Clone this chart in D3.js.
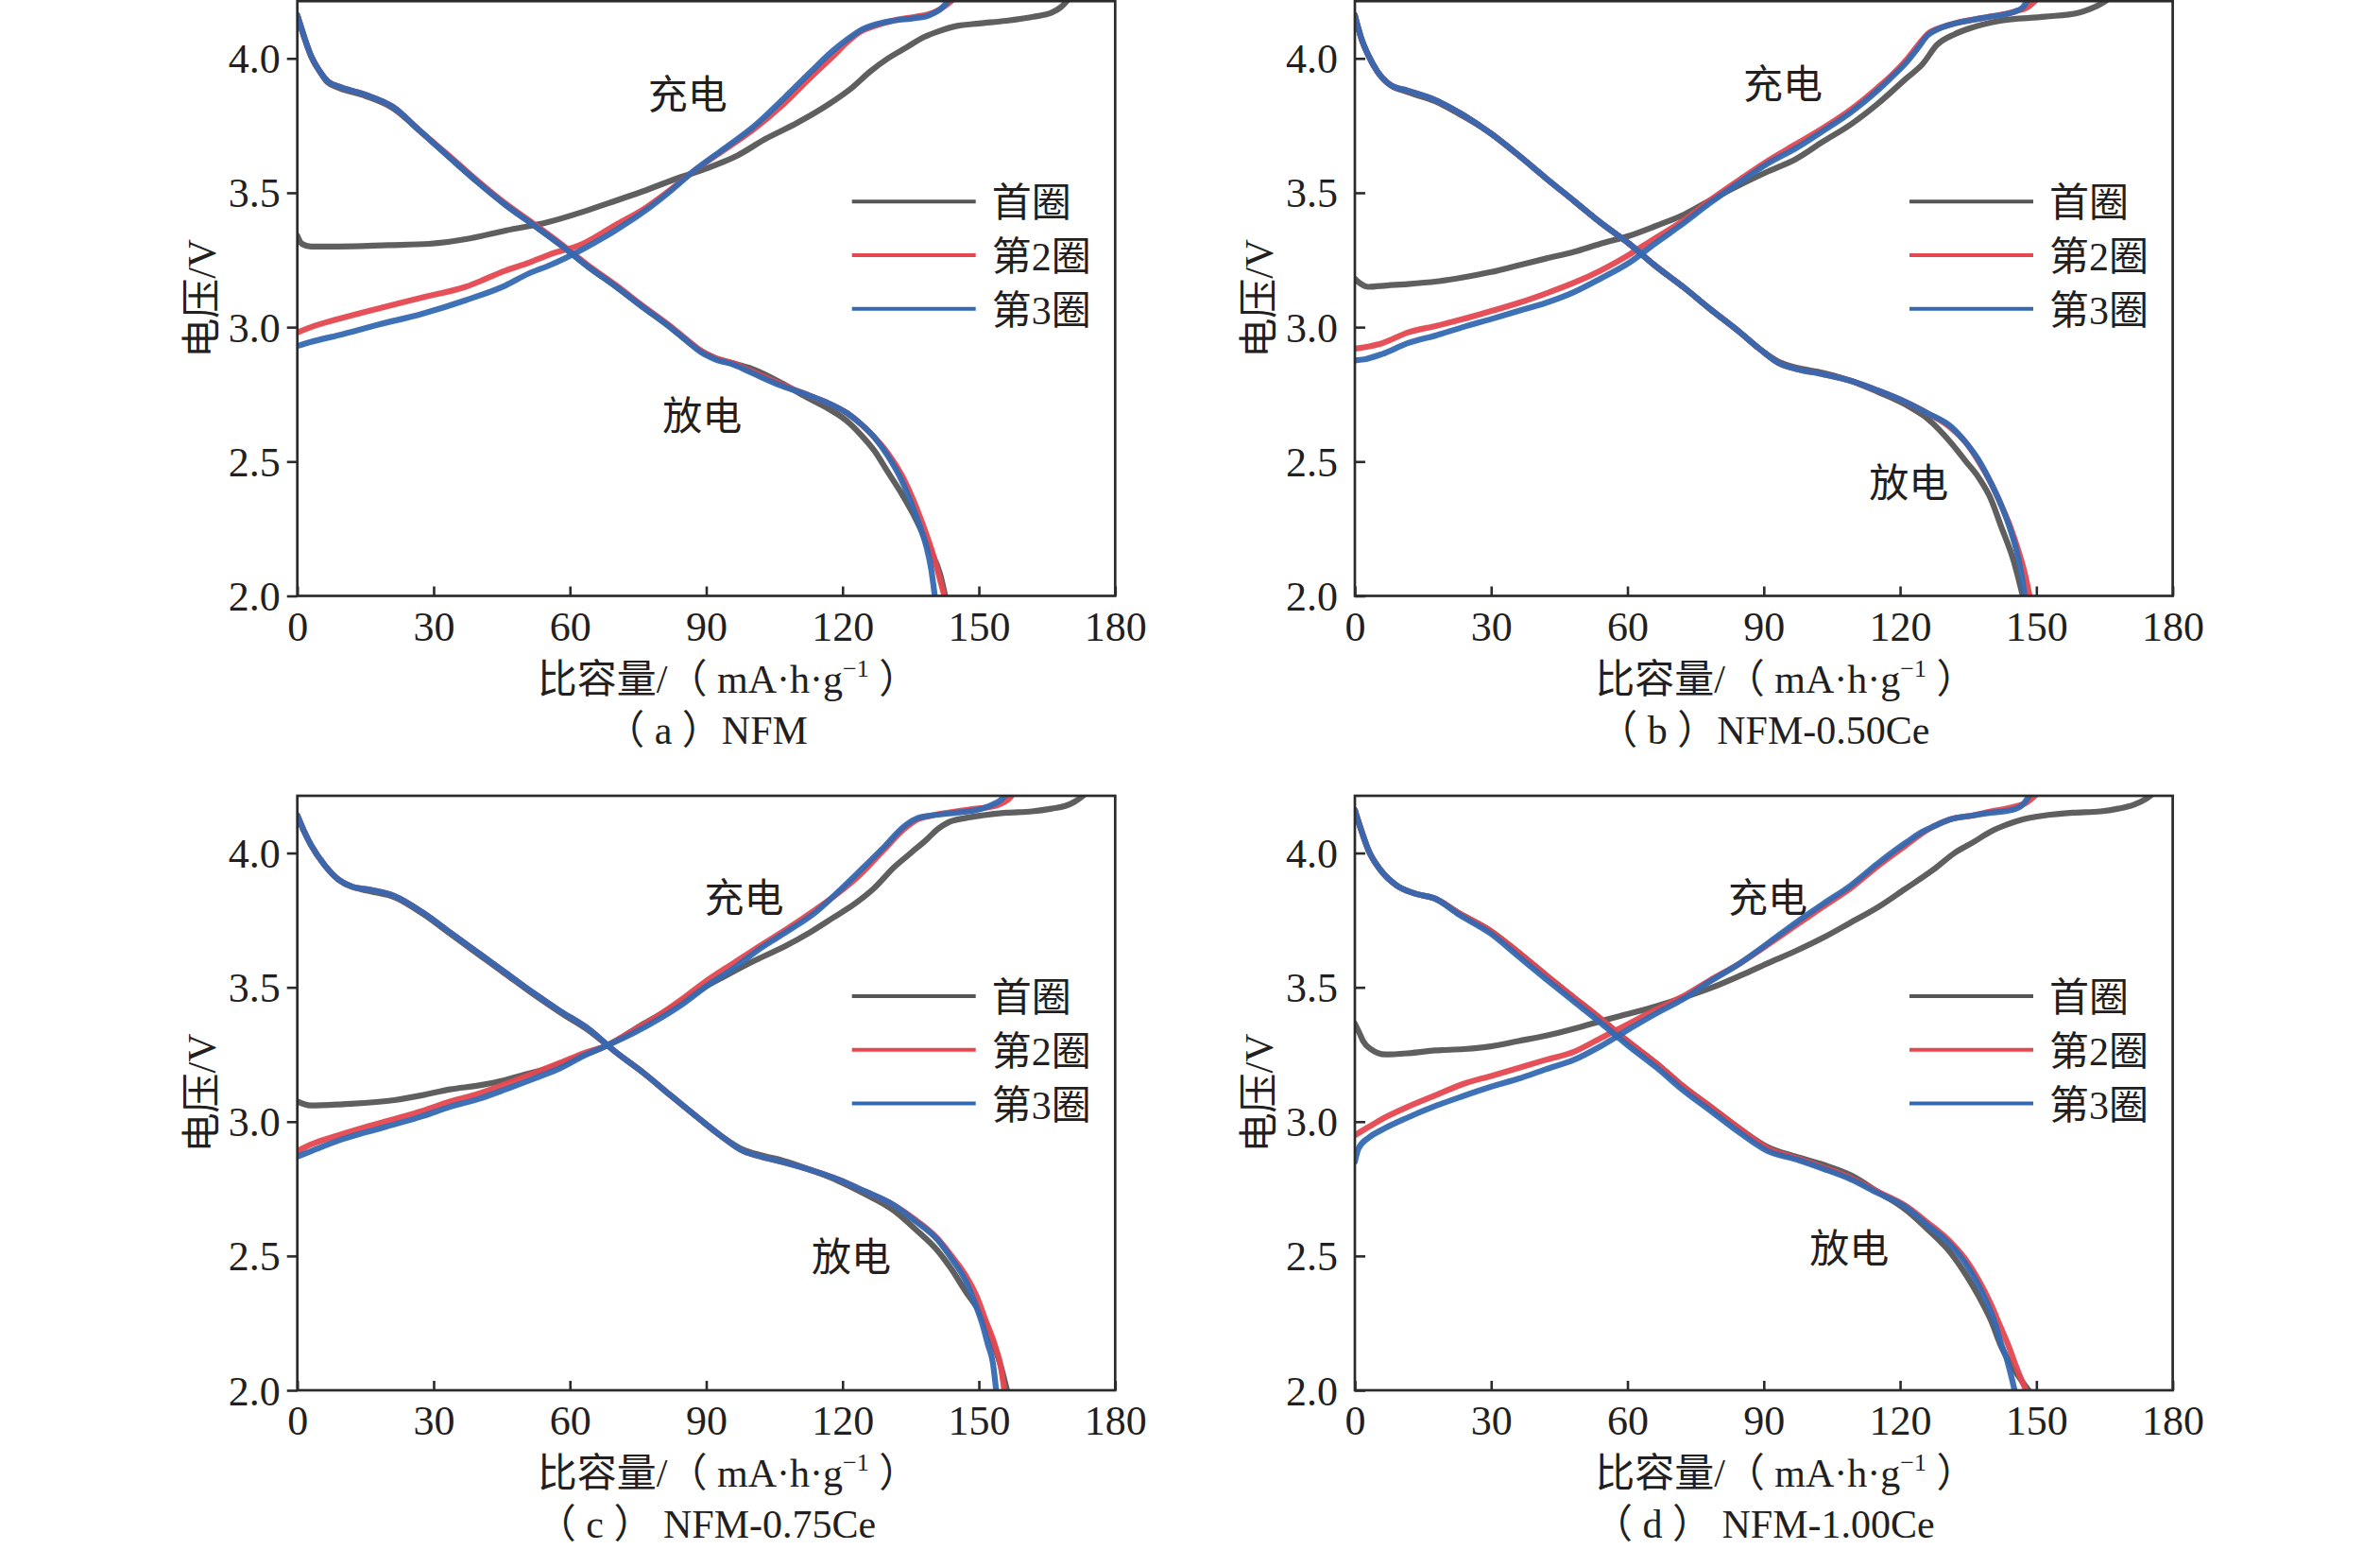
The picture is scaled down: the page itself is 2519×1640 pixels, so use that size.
<!DOCTYPE html>
<html><head><meta charset="utf-8">
<script src="https://cdn.jsdelivr.net/npm/d3@7"></script>
<style>html,body{margin:0;padding:0;background:#fff;}svg{display:block;}</style>
</head><body>
<script>
// ---------------- DATA ----------------
const capTicks = [0, 30, 60, 90, 120, 150, 180];
const voltTicks = [2.0, 2.5, 3.0, 3.5, 4.0];
const cycleNames = ["首圈", "第2圈", "第3圈"];
const panelTitles = ["（ a ）NFM", "（ b ）NFM-0.50Ce", "（ c ） NFM-0.75Ce", "（ d ） NFM-1.00Ce"];
const chargeLabel = "充电", dischargeLabel = "放电";
// annotation anchors [capacity, voltage]
const chargeLabelPos = [[85.9, 3.868], [94.2, 3.907], [98.3, 3.838], [90.9, 3.836]];
const dischargeLabelPos = [[89.1, 2.673], [121.9, 2.424], [121.9, 2.50], [108.8, 2.533]];

// Panel (a) NFM
const aChg1 = [[0,3.34],[1,3.31],[3,3.30],[9,3.30],[20,3.305],[29,3.31],[38,3.33],[46,3.36],[55,3.39],[63,3.43],[70,3.47],[76,3.505],[83,3.55],[90,3.59],[97,3.64],[103,3.70],[110,3.76],[117,3.83],[122,3.89],[126,3.95],[130,4.0],[134,4.04],[138,4.08],[141,4.10],[145,4.12],[150,4.13],[156,4.14],[162,4.155],[166,4.17],[168,4.19],[170,4.225]];
const aChg2 = [[0,2.98],[3,3.0],[9,3.03],[18,3.07],[27.5,3.11],[37,3.15],[45.8,3.21],[51,3.24],[55.5,3.27],[62.8,3.31],[70,3.38],[76.3,3.44],[82,3.51],[87.2,3.58],[94,3.66],[100.7,3.74],[107,3.83],[113,3.93],[118,4.01],[121,4.06],[124,4.10],[127,4.12],[131,4.14],[136,4.155],[140,4.17],[143,4.20],[145,4.23]];
const aChg3 = [[0,2.93],[3,2.945],[9,2.97],[18,3.01],[27.5,3.05],[37,3.10],[45.8,3.155],[51,3.20],[55.5,3.23],[62.8,3.29],[70,3.36],[76.3,3.43],[82,3.505],[87.2,3.58],[94,3.665],[100.7,3.75],[107,3.85],[113,3.95],[118,4.03],[121,4.07],[124,4.105],[127,4.125],[131,4.14],[136,4.15],[139,4.16],[142,4.19],[144,4.23]];
const aDis1 = [[0,4.16],[1.5,4.08],[3,4.01],[5,3.95],[6.7,3.91],[9.2,3.89],[15,3.86],[21,3.815],[27,3.73],[33.6,3.63],[40,3.535],[45.8,3.455],[52,3.38],[58,3.305],[64,3.225],[70.2,3.15],[76,3.075],[82.4,2.995],[86,2.945],[89,2.91],[92,2.885],[96,2.865],[100,2.845],[106.8,2.79],[112,2.74],[116.5,2.70],[121,2.65],[124,2.60],[127,2.54],[130,2.46],[133,2.38],[136,2.29],[139,2.18],[141.5,2.08],[142.6,2.0]];
const aDis2 = [[0,4.16],[1.5,4.08],[3,4.01],[5,3.95],[6.7,3.915],[9.2,3.895],[15,3.865],[21,3.82],[27,3.73],[33.6,3.635],[40,3.54],[45.8,3.46],[52,3.385],[58,3.31],[64,3.23],[70.2,3.155],[76,3.08],[82.4,3.0],[86,2.95],[89,2.91],[92,2.885],[96,2.865],[100,2.835],[106.8,2.785],[112,2.75],[116.5,2.72],[121,2.68],[124,2.64],[127,2.59],[130,2.53],[133,2.45],[135.5,2.36],[138,2.25],[140,2.15],[141.3,2.07],[142.4,2.0]];
const aDis3 = [[0,4.16],[1.5,4.08],[3,4.01],[5,3.95],[6.7,3.915],[9.2,3.895],[15,3.865],[21,3.82],[27,3.73],[33.6,3.63],[40,3.535],[45.8,3.455],[52,3.38],[58,3.305],[64,3.225],[70.2,3.15],[76,3.075],[82.4,2.995],[86,2.945],[89,2.905],[92,2.88],[96,2.86],[100,2.83],[106.8,2.78],[112,2.75],[116.5,2.72],[121,2.68],[124,2.64],[127,2.59],[130,2.52],[133,2.43],[135,2.35],[137,2.26],[138.5,2.18],[139.5,2.1],[140.3,2.0]];

// Panel (b) NFM-0.50Ce
const bChg1 = [[0,3.18],[1,3.165],[3,3.15],[7,3.155],[11.6,3.16],[18,3.17],[23.8,3.185],[30,3.205],[36,3.23],[42,3.255],[48.2,3.28],[54,3.31],[60.4,3.34],[66,3.375],[72.6,3.42],[78,3.47],[84.8,3.53],[91,3.58],[97,3.625],[103,3.69],[109.2,3.755],[115,3.83],[121.2,3.923],[125,3.98],[128.1,4.05],[132,4.09],[135,4.11],[142,4.14],[151.9,4.155],[159.3,4.17],[162,4.185],[164.9,4.21],[166.6,4.23]];
const bChg2 = [[0,2.92],[2,2.925],[6,2.94],[11.6,2.98],[18,3.005],[23.8,3.03],[30,3.06],[36,3.09],[42,3.125],[48.2,3.165],[54,3.21],[60.4,3.27],[66,3.33],[72.6,3.40],[78,3.47],[84.8,3.55],[91,3.62],[97,3.68],[103,3.74],[109.2,3.81],[115,3.89],[118,3.935],[121.4,3.995],[124,4.05],[126,4.09],[129,4.115],[132,4.13],[138,4.15],[145.4,4.175],[148,4.19],[150.7,4.23]];
const bChg3 = [[0,2.876],[2,2.88],[6,2.90],[11.6,2.94],[18,2.97],[23.8,3.0],[30,3.03],[36,3.06],[42,3.09],[48.2,3.13],[54,3.18],[60.4,3.24],[66,3.31],[72.6,3.39],[78,3.46],[84.8,3.54],[91,3.61],[97,3.665],[103,3.73],[109.2,3.80],[115,3.88],[117.7,3.923],[121.4,3.985],[124,4.04],[126,4.085],[128.5,4.11],[131.6,4.128],[138,4.15],[145.4,4.175],[147,4.19],[148.5,4.23]];
const bDis1 = [[0,4.16],[1.5,4.07],[3,4.01],[5,3.95],[7.9,3.90],[11.6,3.875],[17.7,3.84],[23.8,3.785],[30,3.72],[36,3.64],[42,3.555],[48.2,3.47],[54,3.39],[60.4,3.31],[66,3.23],[72.6,3.145],[78,3.07],[84.8,2.98],[89,2.92],[93.4,2.87],[97,2.85],[103,2.83],[109.2,2.80],[115,2.76],[121.4,2.71],[126,2.66],[131.2,2.57],[134.5,2.50],[137.3,2.44],[140,2.36],[142.2,2.26],[145,2.13],[147,2.0]];
const bDis2 = [[0,4.16],[1.5,4.07],[3,4.01],[5,3.95],[7.9,3.90],[11.6,3.88],[17.7,3.845],[23.8,3.79],[30,3.72],[36,3.64],[42,3.555],[48.2,3.47],[54,3.39],[60.4,3.31],[66,3.23],[72.6,3.145],[78,3.07],[84.8,2.98],[89,2.92],[93.4,2.865],[97,2.845],[103,2.825],[109.2,2.80],[115,2.765],[121.4,2.72],[126,2.68],[131.2,2.625],[134.5,2.57],[137.3,2.50],[140,2.42],[142.2,2.34],[144.2,2.26],[146,2.17],[147.5,2.08],[148.5,2.0]];
const bDis3 = [[0,4.16],[1.5,4.07],[3,4.01],[5,3.95],[7.9,3.90],[11.6,3.88],[17.7,3.845],[23.8,3.79],[30,3.72],[36,3.64],[42,3.555],[48.2,3.47],[54,3.39],[60.4,3.31],[66,3.23],[72.6,3.145],[78,3.07],[84.8,2.98],[89,2.92],[93.4,2.865],[97,2.845],[103,2.825],[109.2,2.80],[115,2.765],[121.4,2.72],[126,2.68],[131.2,2.63],[134.5,2.57],[137.3,2.505],[140,2.42],[142.2,2.34],[144,2.26],[145.8,2.155],[146.7,2.08],[147.4,2.0]];

// Panel (c) NFM-0.75Ce
const cChg1 = [[0,3.075],[1.5,3.065],[3,3.06],[10,3.065],[21.4,3.08],[28,3.10],[33.6,3.12],[40,3.135],[45.8,3.155],[50,3.175],[55.5,3.20],[61,3.235],[67.7,3.28],[72,3.32],[76.3,3.365],[82,3.42],[88.5,3.49],[95,3.55],[100.7,3.60],[107,3.65],[112.9,3.705],[118,3.76],[122.6,3.81],[127,3.87],[131.2,3.945],[135,4.0],[138.5,4.05],[141,4.09],[143.4,4.115],[147,4.13],[150.7,4.14],[156,4.15],[161.7,4.155],[166,4.165],[169,4.175],[171,4.19],[172.7,4.21],[174,4.23]];
const cChg2 = [[0,2.89],[3,2.915],[9.15,2.95],[15,2.98],[21.4,3.01],[27.5,3.04],[33.6,3.075],[40,3.105],[45.8,3.14],[52,3.18],[58,3.22],[63,3.255],[67.7,3.28],[74,3.34],[79.9,3.40],[85,3.46],[89.7,3.52],[96,3.59],[101.9,3.655],[108,3.72],[114.1,3.79],[119,3.85],[123.9,3.92],[129,4.01],[133.6,4.09],[136.5,4.125],[139.7,4.14],[145,4.155],[149.5,4.165],[152,4.17],[154.4,4.18],[156.5,4.20],[158,4.23]];
const cChg3 = [[0,2.87],[3,2.89],[9.15,2.93],[15,2.96],[21.4,2.99],[27.5,3.02],[33.6,3.055],[40,3.085],[45.8,3.12],[52,3.16],[58,3.20],[63,3.245],[67.7,3.28],[74,3.33],[79.9,3.385],[85,3.44],[89.7,3.50],[96,3.57],[101.9,3.645],[108,3.71],[114.1,3.78],[119,3.855],[123.9,3.935],[129,4.02],[133.6,4.10],[136.5,4.13],[139.7,4.14],[145,4.15],[149.5,4.16],[153,4.18],[155,4.20],[156.5,4.23]];
const cDis1 = [[0,4.14],[1.5,4.08],[3,4.03],[6,3.955],[9.15,3.90],[12,3.875],[15.3,3.86],[21.4,3.835],[27.5,3.775],[33.6,3.70],[39.7,3.625],[45.8,3.55],[51.9,3.475],[58,3.405],[64.1,3.34],[70,3.26],[76.3,3.18],[82,3.10],[88.5,3.01],[93,2.95],[98.2,2.895],[102,2.875],[106.8,2.855],[113,2.82],[119,2.78],[125,2.73],[131.2,2.67],[136,2.60],[140.9,2.52],[144,2.45],[147,2.37],[150.5,2.28],[153,2.18],[155,2.08],[156.2,2.0]];
const cDis2 = [[0,4.14],[1.5,4.08],[3,4.03],[6,3.955],[9.15,3.90],[12,3.875],[15.3,3.865],[21.4,3.84],[27.5,3.78],[33.6,3.705],[39.7,3.63],[45.8,3.555],[51.9,3.48],[58,3.41],[64.1,3.345],[70,3.26],[76.3,3.18],[82,3.10],[88.5,3.01],[93,2.95],[98.2,2.89],[102,2.87],[106.8,2.85],[113,2.82],[119,2.785],[125,2.74],[131.2,2.69],[136,2.635],[140.9,2.565],[144,2.50],[147,2.43],[149.5,2.35],[151.5,2.26],[153.5,2.17],[154.8,2.09],[155.6,2.0]];
const cDis3 = [[0,4.14],[1.5,4.08],[3,4.03],[6,3.955],[9.15,3.90],[12,3.875],[15.3,3.865],[21.4,3.84],[27.5,3.78],[33.6,3.705],[39.7,3.63],[45.8,3.555],[51.9,3.48],[58,3.41],[64.1,3.345],[70,3.26],[76.3,3.18],[82,3.10],[88.5,3.01],[93,2.95],[98.2,2.89],[102,2.87],[106.8,2.85],[113,2.82],[119,2.785],[125,2.74],[131.2,2.69],[136,2.63],[140.9,2.56],[144,2.49],[147,2.41],[149,2.33],[150.7,2.25],[152,2.17],[153.1,2.10],[153.8,2.0]];

// Panel (d) NFM-1.00Ce
const dChg1 = [[0,3.365],[1,3.33],[1.8,3.30],[3.5,3.27],[6.7,3.25],[12,3.255],[17.7,3.265],[24,3.27],[29.9,3.28],[36,3.30],[42.1,3.32],[48,3.345],[54.3,3.375],[60,3.40],[66.5,3.43],[72,3.46],[78.7,3.50],[85,3.545],[90.9,3.59],[97,3.635],[103.1,3.685],[109,3.74],[115.3,3.80],[121,3.865],[127.5,3.94],[132,4.0],[136.1,4.04],[140,4.08],[143.4,4.105],[147,4.125],[151.9,4.14],[158,4.15],[164.1,4.155],[168,4.165],[171.5,4.18],[174,4.20],[176.3,4.23]];
const dChg2 = [[0,2.95],[3,2.98],[6,3.01],[11.6,3.055],[18,3.10],[23.8,3.14],[30,3.17],[36,3.20],[42,3.23],[48.2,3.26],[54,3.31],[60.4,3.365],[66,3.415],[72.6,3.47],[78,3.525],[84.8,3.59],[91,3.66],[97,3.73],[103,3.80],[109.2,3.87],[115,3.95],[121.4,4.03],[125,4.075],[127.5,4.10],[131,4.125],[136.1,4.14],[140,4.155],[144.6,4.17],[148,4.19],[150.7,4.23]];
const dChg3 = [[0,2.85],[0.8,2.90],[3,2.94],[6,2.97],[11.6,3.015],[18,3.06],[23.8,3.095],[30,3.13],[36,3.16],[42,3.195],[48.2,3.23],[54,3.28],[60.4,3.345],[66,3.40],[72.6,3.46],[78,3.52],[84.8,3.59],[91,3.665],[97,3.74],[103,3.81],[109.2,3.88],[115,3.96],[121.4,4.04],[125,4.08],[127.5,4.10],[131,4.125],[136.1,4.14],[140,4.15],[144.6,4.16],[147,4.18],[149,4.23]];
const dDis1 = [[0,4.16],[1.5,4.08],[3,4.01],[5.5,3.94],[9.15,3.88],[13,3.85],[17.7,3.83],[23,3.775],[29.9,3.71],[36,3.63],[42.1,3.545],[48,3.465],[54.3,3.38],[60,3.30],[66.5,3.215],[72,3.135],[78.7,3.05],[85,2.97],[90.9,2.905],[97,2.87],[103,2.84],[109.2,2.80],[115,2.74],[121.4,2.67],[126,2.60],[131.2,2.51],[134.5,2.43],[137.3,2.35],[140,2.26],[142.2,2.165],[145,2.08],[148.3,2.0]];
const dDis2 = [[0,4.16],[1.5,4.08],[3,4.01],[5.5,3.94],[9.15,3.88],[13,3.85],[17.7,3.83],[23,3.775],[29.9,3.71],[36,3.63],[42.1,3.545],[48,3.465],[54.3,3.38],[60,3.30],[66.5,3.215],[72,3.135],[78.7,3.05],[85,2.97],[90.9,2.90],[97,2.865],[103,2.83],[109.2,2.79],[115,2.74],[121.4,2.685],[126,2.625],[131.2,2.55],[134.5,2.485],[137.3,2.41],[140,2.32],[142,2.24],[144,2.16],[145.5,2.09],[147.7,2.0]];
const dDis3 = [[0,4.16],[1.5,4.08],[3,4.01],[5.5,3.94],[9.15,3.88],[13,3.85],[17.7,3.83],[23,3.77],[29.9,3.70],[36,3.615],[42.1,3.53],[48,3.45],[54.3,3.365],[60,3.285],[66.5,3.20],[72,3.12],[78.7,3.035],[85,2.955],[90.9,2.89],[97,2.86],[103,2.825],[109.2,2.785],[115,2.735],[121.4,2.68],[126,2.615],[131.2,2.54],[134.5,2.47],[137.3,2.39],[139.5,2.31],[140.9,2.25],[142.3,2.17],[143.4,2.12],[144.5,2.05],[145.2,2.0]];

// ---------------- LAYOUT ----------------
const W = 2519, H = 1640;
const colors = ["#565656", "#e5474f", "#3469b1"];
const serif = "'Liberation Serif','Times New Roman','Noto Sans CJK SC',serif";
const textColor = "#231f20";
const panels = [
  {x0:314.7, x1:1180.3, y0:1.2, y1:630.5, tickOut:true,  chg:[aChg1,aChg2,aChg3], dis:[aDis1,aDis2,aDis3]},
  {x0:1434,  x1:2299.6, y0:1.2, y1:630.5, tickOut:false, chg:[bChg1,bChg2,bChg3], dis:[bDis1,bDis2,bDis3]},
  {x0:314.7, x1:1180.3, y0:842, y1:1471,  tickOut:true,  chg:[cChg1,cChg2,cChg3], dis:[cDis1,cDis2,cDis3]},
  {x0:1434,  x1:2299.6, y0:842, y1:1471,  tickOut:false, chg:[dChg1,dChg2,dChg3], dis:[dDis1,dDis2,dDis3]}
];

const svg = d3.select("body").append("svg").attr("width", W).attr("height", H)
  .attr("viewBox", `0 0 ${W} ${H}`);
svg.append("rect").attr("width", W).attr("height", H).attr("fill", "#fff");

panels.forEach((p, i) => {
  const x = d3.scaleLinear().domain([0, 180]).range([p.x0, p.x1]);
  const y = d3.scaleLinear().domain([2.0, 4.213]).range([p.y1, p.y0]);
  const g = svg.append("g");
  const clipId = "clip" + i;
  svg.append("defs").append("clipPath").attr("id", clipId)
    .append("rect").attr("x", p.x0).attr("y", p.y0).attr("width", p.x1 - p.x0).attr("height", p.y1 - p.y0);

  const line = d3.line().x(d => x(d[0])).y(d => y(d[1])).curve(d3.curveMonotoneX);
  const lg = g.append("g").attr("clip-path", `url(#${clipId})`);
  [0, 1, 2].forEach(k => {
    [p.chg[k], p.dis[k]].forEach(arr => {
      lg.append("path").datum(arr).attr("d", line)
        .attr("fill", "none").attr("stroke", colors[k]).attr("stroke-width", 6.2)
        .attr("stroke-linejoin", "round").attr("stroke-linecap", "round")
        .attr("stroke-opacity", 0.95);
    });
  });

  // x axis
  const xAxis = d3.axisBottom(x).tickValues(capTicks).tickSizeInner(-10).tickSizeOuter(0).tickPadding(22)
    .tickFormat(d3.format("d"));
  const gx = g.append("g").attr("transform", `translate(0,${p.y1})`).call(xAxis);
  gx.select(".domain").remove();
  gx.selectAll(".tick line").attr("stroke", "#2b2b2b").attr("stroke-width", 2.6);
  gx.selectAll(".tick text").attr("font-family", serif).attr("font-size", 44).attr("fill", textColor)
    .attr("dy", null).attr("y", 47).attr("dominant-baseline", "alphabetic");

  // y axis
  const yAxis = d3.axisLeft(y).tickValues(voltTicks).tickSizeInner(p.tickOut ? 11 : -11).tickSizeOuter(0)
    .tickFormat(d3.format(".1f"));
  const gy = g.append("g").attr("transform", `translate(${p.x0},0)`).call(yAxis);
  gy.select(".domain").remove();
  gy.selectAll(".tick line").attr("stroke", "#2b2b2b").attr("stroke-width", 2.6);
  gy.selectAll(".tick text").attr("font-family", serif).attr("font-size", 44).attr("fill", textColor)
    .attr("x", -18).attr("dy", null).attr("y", 15).attr("dominant-baseline", "alphabetic");

  // frame
  g.append("rect").attr("x", p.x0).attr("y", p.y0).attr("width", p.x1 - p.x0).attr("height", p.y1 - p.y0)
    .attr("fill", "none").attr("stroke", "#2b2b2b").attr("stroke-width", 2.7);

  // axis titles
  const cx = (p.x0 + p.x1) / 2;
  const xt = g.append("text").attr("x", cx + 23).attr("y", p.y1 + 102).attr("text-anchor", "middle")
    .attr("font-family", serif).attr("font-size", 42).attr("fill", textColor);
  xt.append("tspan").text("比容量/（ mA·h·g");
  xt.append("tspan").attr("font-size", 26).attr("dy", -17).text("−1");
  xt.append("tspan").attr("dy", 17).text(" ）");

  g.append("text").attr("transform", `translate(${p.x0 - 87},${(p.y0 + p.y1) / 2}) rotate(-90)`)
    .attr("text-anchor", "middle").attr("font-family", serif).attr("font-size", 42).attr("fill", textColor)
    .text("电压/V");

  g.append("text").attr("x", cx).attr("y", p.y1 + 156).attr("text-anchor", "middle")
    .attr("font-family", serif).attr("font-size", 42).attr("fill", textColor).text(panelTitles[i]);

  // annotations
  g.append("text").attr("x", x(chargeLabelPos[i][0])).attr("y", y(chargeLabelPos[i][1]) + 16)
    .attr("text-anchor", "middle").attr("font-family", serif).attr("font-size", 42).attr("fill", textColor)
    .text(chargeLabel);
  g.append("text").attr("x", x(dischargeLabelPos[i][0])).attr("y", y(dischargeLabelPos[i][1]) + 16)
    .attr("text-anchor", "middle").attr("font-family", serif).attr("font-size", 42).attr("fill", textColor)
    .text(dischargeLabel);

  // legend
  const lx = p.x0 + 587, ly = p.y0 + 212;
  cycleNames.forEach((name, k) => {
    const yy = ly + k * 56.8;
    g.append("line").attr("x1", lx).attr("x2", lx + 131).attr("y1", yy).attr("y2", yy)
      .attr("stroke", colors[k]).attr("stroke-width", 4);
    g.append("text").attr("x", lx + 148).attr("y", yy + 16).attr("font-family", serif)
      .attr("font-size", 42).attr("fill", textColor).text(name);
  });
});
</script>
</body></html>
